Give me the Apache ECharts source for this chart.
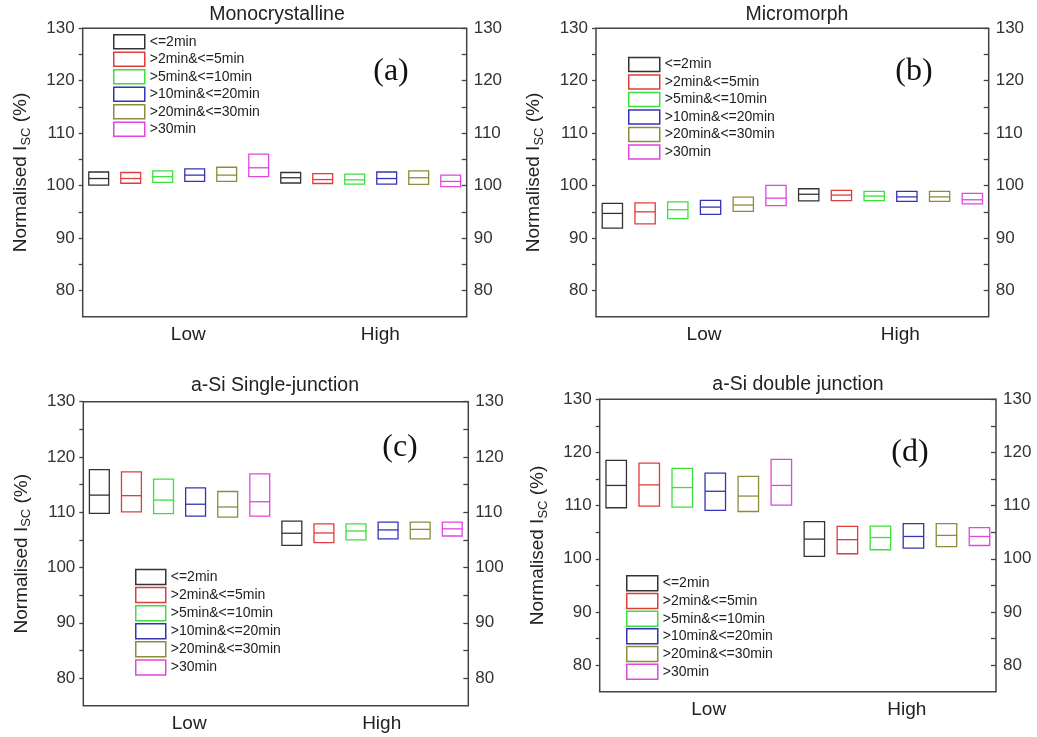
<!DOCTYPE html>
<html>
<head>
<meta charset="utf-8">
<script src="https://cdn.jsdelivr.net/npm/echarts@6/dist/echarts.min.js"></script>
<style>
html, body { margin: 0; padding: 0; background: #fff; }
#main { width: 1037px; height: 737px; }
</style>
</head>
<body>
<div id="main"></div>
<script>
var durations = ['<=2min', '>2min&<=5min', '>5min&<=10min', '>10min&<=20min', '>20min&<=30min', '>30min'];
var groups = ['Low', 'High'];
var titles = ['Monocrystalline', 'Micromorph', 'a-Si Single-junction', 'a-Si double junction'];
var tags = ['(a)', '(b)', '(c)', '(d)'];
var yMin = 75, yMax = 130;
var yTickLabels = [80, 90, 100, 110, 120, 130];

// [bottom, median, top] of each box, one row per duration
var monoLow = [[100.1, 101.35, 102.6], [100.45, 101.35, 102.5], [100.6, 101.7, 102.8], [100.8, 102.0, 103.2], [100.8, 102.0, 103.5], [101.7, 103.4, 106.0]];
var monoHigh = [[100.5, 101.5, 102.5], [100.4, 101.15, 102.3], [100.3, 101.1, 102.2], [100.3, 101.35, 102.6], [100.25, 101.5, 102.8], [99.8, 100.8, 102.0]];
var microLow = [[91.9, 94.7, 96.6], [92.7, 95.0, 96.7], [93.7, 95.4, 96.9], [94.5, 95.9, 97.2], [95.1, 96.3, 97.8], [96.2, 97.6, 100.05]];
var microHigh = [[97.1, 98.35, 99.4], [97.15, 98.2, 99.1], [97.15, 98.0, 98.9], [97.0, 97.85, 98.9], [97.0, 97.85, 98.9], [96.5, 97.3, 98.5]];
var singleLow = [[109.8, 113.1, 117.7], [110.05, 113.0, 117.3], [109.75, 112.2, 116.0], [109.3, 111.45, 114.4], [109.1, 110.95, 113.75], [109.3, 111.9, 116.95]];
var singleHigh = [[104.0, 106.2, 108.4], [104.5, 106.25, 107.9], [105.0, 106.6, 107.9], [105.2, 106.8, 108.2], [105.2, 106.9, 108.2], [105.7, 107.0, 108.2]];
var doubleLow = [[109.6, 113.8, 118.5], [109.9, 113.9, 118.0], [109.7, 113.4, 117.0], [109.1, 112.7, 116.1], [108.9, 111.8, 115.5], [110.1, 113.8, 118.7]];
var doubleHigh = [[100.45, 103.7, 107.0], [100.95, 103.6, 106.1], [101.7, 104.0, 106.15], [102.0, 104.2, 106.6], [102.3, 104.4, 106.6], [102.5, 104.2, 105.85]];

var panelData = [[monoLow, monoHigh], [microLow, microHigh], [singleLow, singleHigh], [doubleLow, doubleHigh]];

var colors = ['#333333', '#e03c3c', '#3ce03c', '#3434b4', '#8c8c3c', '#e046e0'];

// layout of the four panels
var panels = [
  { grid: [82.7, 28.3, 384, 288.4], legend: [113, 34, 31, 14, 2.0], title: [277, 15], tag: [391, 72] },
  { grid: [596, 28.3, 392.7, 288.4], legend: [628, 56.7, 31, 14, 2.0], title: [797, 15], tag: [914, 72] },
  { grid: [83.3, 401.7, 385, 304], legend: [135, 568.7, 30, 15, 1.6], title: [275, 386], tag: [400, 448] },
  { grid: [599.7, 399.3, 396.3, 292.4], legend: [626, 575, 31, 15, 1.2], title: [798, 385], tag: [910, 453] }
];

var font = 'Liberation Sans, Arial, sans-serif';
var slots = durations.length * groups.length;

// minor + major tick positions every 5 units from the first label
var yTicks = [];
for (var t = yTickLabels[0]; t <= yMax; t += 5) yTicks.push(t);

function groupLabel(v) {
  for (var i = 0; i < groups.length; i++) {
    var c = i * durations.length + durations.length / 2 + 0.3;
    if (Math.abs(v - c) < 1e-6) return groups[i];
  }
  return '';
}

function renderBox(params, api) {
  var x = api.value(0);
  var lo = api.coord([x, api.value(1)]);
  var md = api.coord([x, api.value(2)]);
  var hi = api.coord([x, api.value(3)]);
  var w = api.size([1, 0])[0] * 0.62;
  var style = { fill: 'none', stroke: api.visual('color'), lineWidth: 1.3 };
  return {
    type: 'group',
    children: [
      { type: 'rect', shape: { x: lo[0] - w / 2, y: hi[1], width: w, height: lo[1] - hi[1] }, style: style },
      { type: 'line', shape: { x1: md[0] - w / 2, y1: md[1], x2: md[0] + w / 2, y2: md[1] }, style: style }
    ]
  };
}

var grids = [], xAxes = [], yAxes = [], legends = [], series = [], graphics = [];

panels.forEach(function (p, i) {
  grids.push({
    left: p.grid[0], top: p.grid[1], width: p.grid[2], height: p.grid[3],
    show: true, borderColor: '#444', borderWidth: 1.5, backgroundColor: 'transparent'
  });
  xAxes.push({
    type: 'value', gridIndex: i, min: 0, max: slots, interval: 0.1,
    axisLine: { show: false }, axisTick: { show: false }, splitLine: { show: false },
    axisLabel: { formatter: groupLabel, fontSize: 19, color: '#222', margin: 9, fontFamily: font }
  });
  var yLabel = { customValues: yTickLabels, fontSize: 17, color: '#333', fontFamily: font, margin: 8 };
  yAxes.push({
    type: 'value', gridIndex: i, min: yMin, max: yMax, position: 'left',
    axisLine: { show: false }, splitLine: { show: false },
    axisTick: { customValues: yTicks, inside: false, length: 4, lineStyle: { color: '#444', width: 1.3 } },
    axisLabel: yLabel,
    name: '{m|Normalised I}{s|SC}{m| (%)}',
    nameLocation: 'middle', nameGap: 48,
    nameTextStyle: {
      fontFamily: font, color: '#222',
      rich: {
        m: { fontSize: 19, fontFamily: font, color: '#222', lineHeight: 28, verticalAlign: 'middle' },
        s: { fontSize: 13, fontFamily: font, color: '#222', lineHeight: 13, verticalAlign: 'bottom', padding: [0, 0, 2, 0] }
      }
    }
  });
  yAxes.push({
    type: 'value', gridIndex: i, min: yMin, max: yMax, position: 'right',
    axisLine: { show: false }, splitLine: { show: false },
    axisTick: { customValues: yTicks, inside: true, length: 5, lineStyle: { color: '#444', width: 1.3 } },
    axisLabel: Object.assign({}, yLabel, { margin: 7 })
  });
  legends.push({
    orient: 'vertical', left: p.legend[0], top: p.legend[1], padding: 0,
    itemWidth: p.legend[2], itemHeight: p.legend[3], itemGap: p.legend[4],
    selectedMode: false, icon: 'rect',
    textStyle: { fontSize: 14, color: '#222', fontFamily: font },
    data: durations.map(function (d, k) {
      return { name: d, itemStyle: { color: 'rgba(0,0,0,0)', borderColor: colors[k], borderWidth: 1.5 } };
    })
  });
  durations.forEach(function (d, k) {
    var rows = [];
    panelData[i].forEach(function (g, gi) {
      rows.push([gi * durations.length + k + 0.5, g[k][0], g[k][1], g[k][2]]);
    });
    series.push({
      type: 'custom', name: d, xAxisIndex: i, yAxisIndex: i * 2,
      itemStyle: { color: colors[k] },
      encode: { x: 0, y: [1, 2, 3] },
      renderItem: renderBox,
      data: rows
    });
  });
  graphics.push({
    type: 'text', x: p.title[0], y: p.title[1],
    style: { text: titles[i], fontSize: 19.5, fill: '#222', fontFamily: font, align: 'center', verticalAlign: 'middle' }
  });
  graphics.push({
    type: 'text', x: p.tag[0], y: p.tag[1],
    style: { text: tags[i], fontSize: 32, fill: '#111', fontFamily: 'Liberation Serif, Times New Roman, serif', align: 'center', verticalAlign: 'middle' }
  });
});

var chart = echarts.init(document.getElementById('main'));
var option = {
  backgroundColor: '#fff',
  animation: false,
  grid: grids,
  xAxis: xAxes,
  yAxis: yAxes,
  legend: legends,
  series: series,
  graphic: graphics
};
chart.setOption(option);
</script>
</body>
</html>
